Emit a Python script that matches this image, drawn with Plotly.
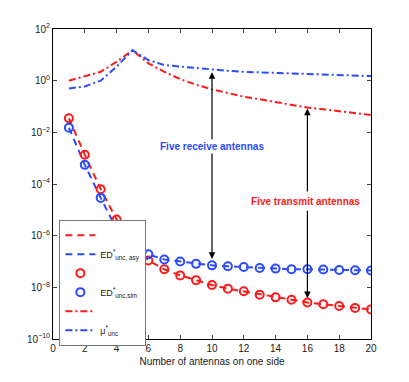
import plotly.graph_objects as go

# Data
n = list(range(1, 21))
red_ed = [3.5e-2, 1.35e-3, 6.3e-5, 4.2e-6, 5.5e-7, 1.1e-7, 5.0e-8, 2.9e-8, 1.9e-8, 1.23e-8,
          8.9e-9, 7.0e-9, 5.2e-9, 4.1e-9, 3.3e-9, 2.6e-9, 2.2e-9, 1.9e-9, 1.6e-9, 1.4e-9]
blue_ed = [1.5e-2, 5.5e-4, 2.9e-5, 1.8e-6, 4.0e-7, 1.9e-7, 1.2e-7, 1.0e-7, 8.1e-8, 7.1e-8,
           6.5e-8, 6.1e-8, 5.6e-8, 5.3e-8, 5.0e-8, 5.0e-8, 4.9e-8, 4.7e-8, 4.6e-8, 4.5e-8]
red_mu = [1.0, 1.5, 2.2, 5.4, 15.0, 4.7, 2.2, 1.15, 0.7, 0.46,
          0.33, 0.24, 0.19, 0.15, 0.12, 0.091, 0.078, 0.066, 0.056, 0.047]
blue_mu = [0.5, 0.6, 1.0, 3.5, 15.0, 6.3, 4.0, 3.5, 3.0, 2.6,
           2.4, 2.2, 2.1, 2.0, 1.95, 1.9, 1.8, 1.7, 1.6, 1.5]
y_tickvals = [1e-10, 1e-8, 1e-6, 1e-4, 1e-2, 1e0, 1e2]
y_ticktext = ["10<sup>\u221210</sup>", "10<sup>\u22128</sup>", "10<sup>\u22126</sup>",
              "10<sup>\u22124</sup>", "10<sup>\u22122</sup>", "10<sup>0</sup>", "10<sup>2</sup>"]
x_tickvals = [0, 2, 4, 6, 8, 10, 12, 14, 16, 18, 20]

RED = "#ff1a1a"
BLUE = "#2b4bff"
FONT = "Liberation Sans"

fig = go.Figure()
fig.add_trace(go.Scatter(x=n, y=red_ed, mode="lines", name=" ",
                         line=dict(color=RED, width=2, dash="7px,5px")))
fig.add_trace(go.Scatter(x=n, y=blue_ed, mode="lines",
                         name="ED<sup>*</sup><sub>unc, asy</sub>",
                         line=dict(color=BLUE, width=2, dash="7px,5px")))
fig.add_trace(go.Scatter(x=n, y=red_ed, mode="markers", name=" ",
                         marker=dict(symbol="circle-open", size=8, color=RED, line=dict(width=2, color=RED))))
fig.add_trace(go.Scatter(x=n, y=blue_ed, mode="markers",
                         name="ED<sup>*</sup><sub>unc,sim</sub>",
                         marker=dict(symbol="circle-open", size=8, color=BLUE, line=dict(width=2, color=BLUE))))
fig.add_trace(go.Scatter(x=n, y=red_mu, mode="lines", name=" ",
                         line=dict(color=RED, width=2, dash="7px,3px,2px,3px")))
fig.add_trace(go.Scatter(x=n, y=blue_mu, mode="lines",
                         name="\u03bc<sup>*</sup><sub>unc</sub>",
                         line=dict(color=BLUE, width=2, dash="7px,3px,2px,3px")))

arrow = dict(showarrow=True, arrowhead=2, arrowsize=1.1, arrowwidth=1.2, arrowcolor="black",
             xref="x", yref="y", axref="x", ayref="y", text="")
anns = [
    dict(x=10, y=0.33, ax=10, ay=-2.33, **arrow),
    dict(x=10, y=-6.9, ax=10, ay=-2.76, **arrow),
    dict(x=16, y=-1.08, ax=16, ay=-4.35, **arrow),
    dict(x=16, y=-8.42, ax=16, ay=-4.98, **arrow),
    dict(x=10, y=-2.53, xref="x", yref="y", showarrow=False, text="<b>Five receive antennas</b>",
         font=dict(color=BLUE, size=10, family=FONT)),
    dict(x=15.85, y=-4.67, xref="x", yref="y", showarrow=False, text="<b>Five transmit antennas</b>",
         font=dict(color=RED, size=10, family=FONT)),
]

# page body has an 8px default margin, so the figure is sized/offset to compensate
fig.update_layout(
    width=401, height=374,
    margin=dict(l=45, r=38, t=21, b=43),
    plot_bgcolor="white", paper_bgcolor="white",
    font=dict(family=FONT, size=10, color="#222"),
    showlegend=True,
    legend=dict(x=0.02, y=0.385, xanchor="left", yanchor="top",
                bgcolor="white", bordercolor="#777", borderwidth=1,
                font=dict(size=9, color="#222"), itemwidth=30, tracegroupgap=0),
    annotations=anns,
)
fig.update_xaxes(range=[0, 20], tickvals=x_tickvals, ticks="inside", ticklen=4, mirror="ticks",
                 showline=True, linecolor="black", linewidth=1, showgrid=False, zeroline=False,
                 automargin=False,
                 title=dict(text="Number of antennas on one side", standoff=4, font=dict(size=10)))
fig.update_yaxes(type="log", range=[-10, 2], tickvals=y_tickvals, ticktext=y_ticktext,
                 ticks="inside", ticklen=4, mirror="ticks", showline=True, linecolor="black",
                 linewidth=1, showgrid=False, zeroline=False, automargin=False)

fig.write_html("out.html")
